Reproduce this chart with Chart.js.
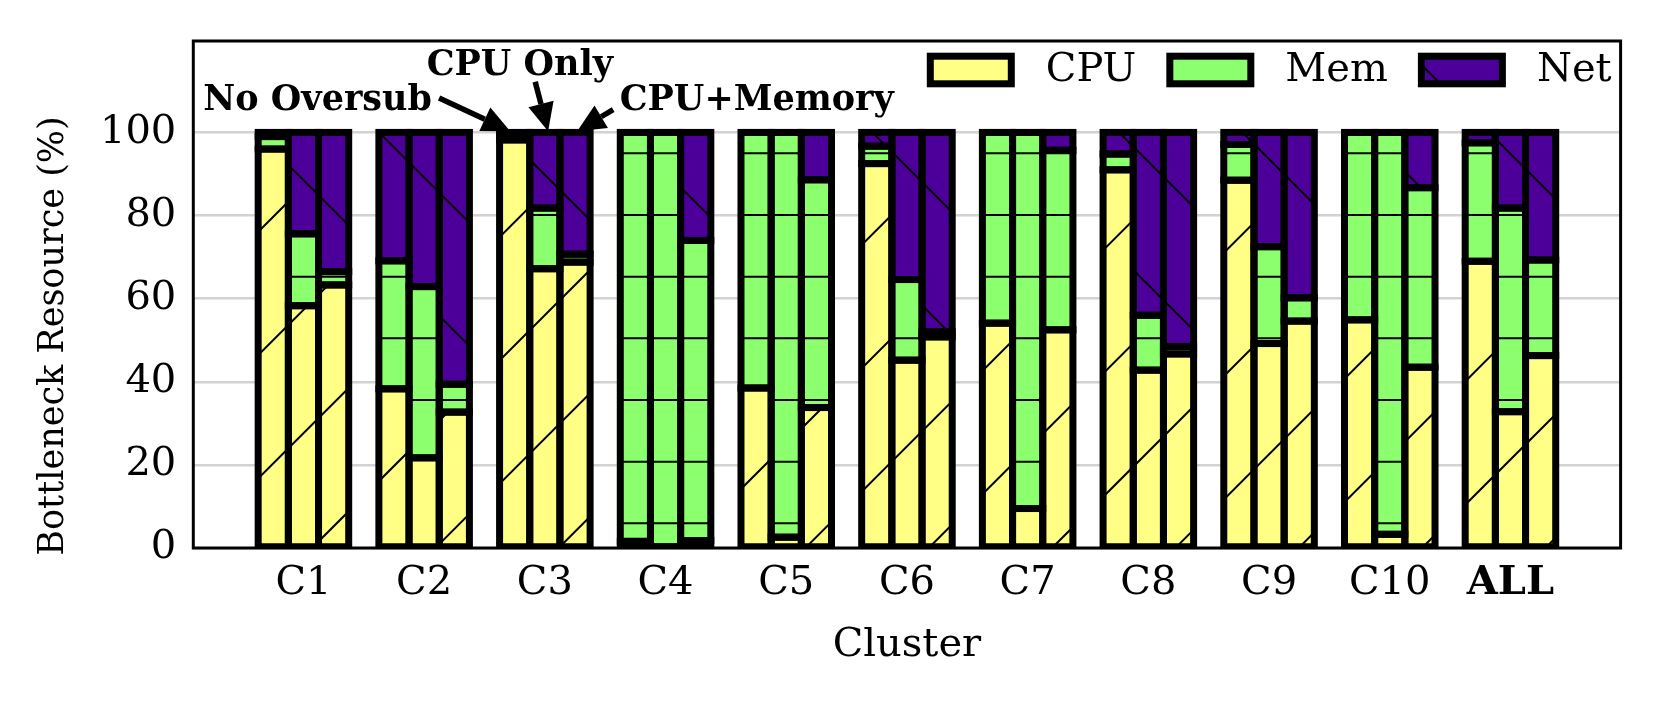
<!DOCTYPE html>
<html>
<head>
<meta charset="utf-8">
<script src="https://cdn.jsdelivr.net/npm/chart.js@4.4.1/dist/chart.umd.min.js"></script>
<style>
html, body { margin: 0; padding: 0; background: #fff; }
#wrap { width: 1660px; height: 703px; }
</style>
</head>
<body>
<div id="wrap"><canvas id="chart"></canvas></div>
<script>
const categories = ['C1', 'C2', 'C3', 'C4', 'C5', 'C6', 'C7', 'C8', 'C9', 'C10', 'ALL'];
const resources = ['CPU', 'Mem', 'Net'];
const configs = ['No Oversub', 'CPU Only', 'CPU+Memory'];

// share of time each resource is the bottleneck (%), per cluster
const noOversubCpu = [96.0, 38.3, 98.2, 1.6, 38.5, 92.5, 54.1, 91.0, 88.5, 54.9, 69.0];
const noOversubMem = [3.0, 30.8, 1.0, 98.4, 61.5, 4.2, 45.9, 3.8, 8.6, 45.1, 28.5];
const noOversubNet = [1.0, 30.9, 0.8, 0.0, 0.0, 3.3, 0.0, 5.2, 2.9, 0.0, 2.5];

const cpuOnlyCpu = [58.3, 21.7, 67.2, 0.3, 2.6, 45.2, 9.5, 42.8, 49.2, 3.3, 32.8];
const cpuOnlyMem = [17.3, 41.2, 14.6, 99.7, 97.4, 19.4, 90.5, 13.2, 23.3, 96.7, 49.0];
const cpuOnlyNet = [24.4, 37.1, 18.2, 0.0, 0.0, 35.4, 0.0, 44.0, 27.5, 0.0, 18.2];

const cpuMemCpu = [63.3, 32.7, 68.8, 1.8, 33.8, 50.8, 52.5, 46.7, 54.6, 43.5, 46.3];
const cpuMemMem = [3.2, 6.7, 1.9, 72.2, 54.8, 1.2, 43.2, 1.8, 5.6, 43.2, 23.0];
const cpuMemNet = [33.5, 60.6, 29.3, 26.0, 11.4, 48.0, 4.3, 51.5, 39.8, 13.3, 30.7];

const yTicks = [0, 20, 40, 60, 80, 100];

const series = [
  [noOversubCpu, noOversubMem, noOversubNet],
  [cpuOnlyCpu, cpuOnlyMem, cpuOnlyNet],
  [cpuMemCpu, cpuMemMem, cpuMemNet]
];

const FONT = '"DejaVu Serif", "Liberation Serif", serif';
const colors = { CPU: '#ffff85', Mem: '#8cff6e', Net: '#4c0099' };
const hatchKind = { CPU: '/', Mem: '-', Net: '\\' };

const canvas = document.getElementById('chart');
const ctx0 = canvas.getContext('2d');

// hatch tiles, anchored to the canvas origin
const TILE = 370, PERIOD = TILE / 3;
function makePattern(color, kind) {
  const c = document.createElement('canvas');
  c.width = TILE; c.height = TILE;
  const g = c.getContext('2d');
  g.fillStyle = color;
  g.fillRect(0, 0, TILE, TILE);
  g.strokeStyle = '#000';
  g.lineWidth = 2;
  g.beginPath();
  if (kind === '/') {
    for (let k = -4; k <= 9; k++) {
      const s = 120 + k * PERIOD;
      g.moveTo(s + 20, -20); g.lineTo(s - TILE - 20, TILE + 20);
    }
  } else if (kind === '\\') {
    for (let k = -5; k <= 5; k++) {
      const s = k * PERIOD;
      g.moveTo(-20, s - 20); g.lineTo(TILE + 20, TILE + s + 20);
    }
  } else {
    for (let k = 0; k < 6; k++) {
      const y = 30 + k * PERIOD / 2;
      g.moveTo(0, y); g.lineTo(TILE, y);
    }
  }
  g.stroke();
  return ctx0.createPattern(c, 'repeat');
}
const patterns = {};
resources.forEach(r => { patterns[r] = makePattern(colors[r], hatchKind[r]); });

const datasets = [];
configs.forEach((cfg, ci) => {
  resources.forEach((res, ri) => {
    datasets.push({
      label: res,
      stack: cfg,
      data: series[ci][ri].map((v, i) => ({ x: i, y: v })),
      backgroundColor: patterns[res],
      borderWidth: 0,
      categoryPercentage: 0.75,
      barPercentage: 1.0
    });
  });
});

const overlay = {
  id: 'overlay',
  afterDatasetsDraw(chart) {
    const ctx = chart.ctx;
    const a = chart.chartArea;
    ctx.save();
    ctx.beginPath();
    ctx.rect(a.left, a.top, a.right - a.left, a.bottom - a.top);
    ctx.clip();
    ctx.strokeStyle = '#000';
    ctx.lineWidth = 7;
    chart.data.datasets.forEach((ds, i) => {
      chart.getDatasetMeta(i).data.forEach(bar => {
        const p = bar.getProps(['x', 'y', 'base', 'width'], true);
        ctx.strokeRect(p.x - p.width / 2, Math.min(p.y, p.base), p.width, Math.abs(p.base - p.y));
      });
    });
    ctx.restore();
    ctx.save();
    ctx.strokeStyle = '#000';
    ctx.lineWidth = 3;
    ctx.strokeRect(a.left, a.top, a.right - a.left, a.bottom - a.top);
    ctx.restore();
  },
  afterDraw(chart) {
    const ctx = chart.ctx;
    const a = chart.chartArea;
    const xs = chart.scales.x, ys = chart.scales.y;
    ctx.save();
    ctx.fillStyle = '#000';

    // axis titles
    ctx.font = '40px ' + FONT;
    ctx.textAlign = 'center';
    ctx.textBaseline = 'middle';
    ctx.fillText('Cluster', (a.left + a.right) / 2, 646);
    ctx.save();
    ctx.translate(54, 336);
    ctx.rotate(-Math.PI / 2);
    ctx.font = '35px ' + FONT;
    ctx.fillText('Bottleneck Resource (%)', 0, 0);
    ctx.restore();

    // legend
    let lx = a.left + 737;
    const boxW = 81, boxH = 27.6, boxTop = 56.2;
    ctx.font = '40px ' + FONT;
    ctx.textAlign = 'left';
    resources.forEach(r => {
      ctx.fillStyle = patterns[r];
      ctx.fillRect(lx, boxTop, boxW, boxH);
      ctx.lineWidth = 7;
      ctx.strokeStyle = '#000';
      ctx.strokeRect(lx, boxTop, boxW, boxH);
      const tx = lx + boxW + 3.5 + 31;
      ctx.fillStyle = '#000';
      ctx.textBaseline = 'middle';
      ctx.fillText(r, tx, boxTop + boxH / 2 + 1);
      lx = tx + ctx.measureText(r).width + 30 + 3.5;
    });

    // annotations for the three bars of C3
    ctx.font = 'bold 35px ' + FONT;
    ctx.textBaseline = 'alphabetic';
    ctx.textAlign = 'right';
    ctx.fillText(configs[0], xs.getPixelForValue(1.065), ys.getPixelForValue(105.5));
    ctx.textAlign = 'center';
    ctx.fillText(configs[1], xs.getPixelForValue(1.793), ys.getPixelForValue(113.8));
    ctx.textAlign = 'left';
    ctx.fillText(configs[2], xs.getPixelForValue(2.62), ys.getPixelForValue(105.5));

    const arrows = [
      [1.124, 108.3, 1.713, 100.3],
      [1.92, 112.2, 2.027, 100.3],
      [2.566, 105.5, 2.268, 100.3]
    ];
    arrows.forEach(([x0, y0, x1, y1]) => {
      const px0 = xs.getPixelForValue(x0), py0 = ys.getPixelForValue(y0);
      const px1 = xs.getPixelForValue(x1), py1 = ys.getPixelForValue(y1);
      const ang = Math.atan2(py1 - py0, px1 - px0);
      const hl = 28, hw = 13;
      const bx = px1 - hl * Math.cos(ang), by = py1 - hl * Math.sin(ang);
      ctx.strokeStyle = '#000';
      ctx.lineWidth = 5.5;
      ctx.beginPath();
      ctx.moveTo(px0, py0);
      ctx.lineTo(bx, by);
      ctx.stroke();
      ctx.beginPath();
      ctx.moveTo(px1, py1);
      ctx.lineTo(bx + hw * Math.sin(ang), by - hw * Math.cos(ang));
      ctx.lineTo(bx - hw * Math.sin(ang), by + hw * Math.cos(ang));
      ctx.closePath();
      ctx.fill();
    });
    ctx.restore();
  }
};

new Chart(canvas, {
  type: 'bar',
  data: { datasets },
  options: {
    responsive: true,
    maintainAspectRatio: false,
    animation: false,
    events: [],
    layout: { padding: { top: 35, right: 39.4, left: 0, bottom: 0 } },
    plugins: { legend: { display: false }, tooltip: { enabled: false } },
    scales: {
      x: {
        type: 'linear',
        stacked: true,
        offset: false,
        min: -0.9125,
        max: 10.9125,
        afterFit(s) { s.height = 155; },
        afterBuildTicks(s) { s.ticks = categories.map((c, i) => ({ value: i })); },
        grid: { display: false, drawTicks: false },
        border: { display: false },
        ticks: {
          autoSkip: false,
          maxRotation: 0,
          padding: 12,
          color: '#000',
          font: (c) => ({ family: FONT, size: 40, weight: c.index === categories.length - 1 ? 'bold' : 'normal' }),
          callback: (v) => categories[v]
        }
      },
      y: {
        stacked: true,
        min: 0,
        max: 122,
        afterFit(s) { s.width = 193.3; },
        afterBuildTicks(s) {
          const t = [];
          for (let v = 0; v <= 100; v += 10) t.push({ value: v });
          s.ticks = t;
        },
        grid: { color: '#d2d2d2', lineWidth: 2.5, drawTicks: false },
        border: { display: false },
        ticks: {
          padding: 17,
          color: '#000',
          font: { family: FONT, size: 40 },
          callback: (v) => (yTicks.includes(v) ? String(v) : '')
        }
      }
    }
  },
  plugins: [overlay]
});
</script>
</body>
</html>
